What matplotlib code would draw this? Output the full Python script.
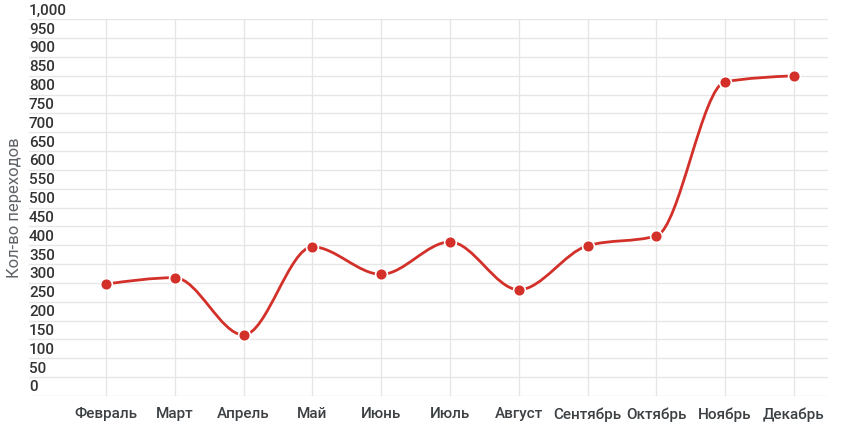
import numpy as np
import matplotlib
matplotlib.use("Agg")
import matplotlib.pyplot as plt
from matplotlib.path import Path
from matplotlib.patches import PathPatch
from matplotlib.transforms import blended_transform_factory

plt.rcParams['font.family'] = ['Roboto', 'DejaVu Sans']

# Данные
months = ['Февраль', 'Март', 'Апрель', 'Май', 'Июнь', 'Июль',
          'Август', 'Сентябрь', 'Октябрь', 'Ноябрь', 'Декабрь']
visits = [297, 314, 162, 396, 323, 409, 282, 399, 425, 834, 850]
y_ticks = list(range(0, 1001, 50))

line_color = '#d3302a'
grid_color = '#e6e6e6'


# Монотонная кубическая кривая (без выбросов за точки)
def monotone_path(xs, ys):
    xs = np.asarray(xs, dtype=float)
    ys = np.asarray(ys, dtype=float)
    n = len(xs)
    h = np.diff(xs)
    s = np.diff(ys) / h
    t = np.zeros(n)
    for i in range(1, n - 1):
        p = (s[i - 1] * h[i] + s[i] * h[i - 1]) / (h[i - 1] + h[i])
        t[i] = (np.sign(s[i - 1]) + np.sign(s[i])) * min(abs(s[i - 1]), abs(s[i]), 0.5 * abs(p))
    t[0] = (3 * s[0] - t[1]) / 2
    t[-1] = (3 * s[-1] - t[-2]) / 2

    verts = [(xs[0], ys[0])]
    codes = [Path.MOVETO]
    for i in range(n - 1):
        dx = h[i] / 3
        verts += [(xs[i] + dx, ys[i] + dx * t[i]),
                  (xs[i + 1] - dx, ys[i + 1] - dx * t[i + 1]),
                  (xs[i + 1], ys[i + 1])]
        codes += [Path.CURVE4] * 3
    return Path(verts, codes)


fig = plt.figure(figsize=(8.42, 4.38), dpi=100)
ax = fig.add_axes([0.0344, 0.0959, 0.9486, 0.8600])

x = np.arange(len(months))
ax.set_xlim(-1.12, len(months) - 1 + 0.49)
ax.set_ylim(0, 1000)

# Сетка
ax.set_yticks(y_ticks)
ax.set_yticklabels([])
ax.set_xticks(x)
ax.set_xticklabels(months, fontsize=11, color='#3c4043', fontweight='medium')
ax.tick_params(axis='both', length=0)
ax.tick_params(axis='x', pad=8)
ax.grid(True, color=grid_color, linewidth=1)
ax.set_axisbelow(True)
for s in ax.spines.values():
    s.set_visible(False)

# Подписи оси Y внутри области, над линиями сетки
tr = blended_transform_factory(ax.transAxes, ax.transData)
for v in y_ticks:
    ax.text(0.0, v + 12, f'{v:,}', transform=tr, ha='left', va='baseline',
            fontsize=11, color='#333333', fontweight='medium')

ax.set_ylabel('Кол-во переходов', fontsize=12, color='#5f6368')
ax.yaxis.set_label_coords(-0.009, 0.5)

# Линия и точки
ax.add_patch(PathPatch(monotone_path(x, visits), facecolor='none',
                       edgecolor=line_color, linewidth=2, zorder=3))
ax.plot(x, visits, 'o', color=line_color, markersize=8.5,
        markeredgecolor='white', markeredgewidth=1.2, zorder=4)

fig.savefig('out.png', dpi=100)
